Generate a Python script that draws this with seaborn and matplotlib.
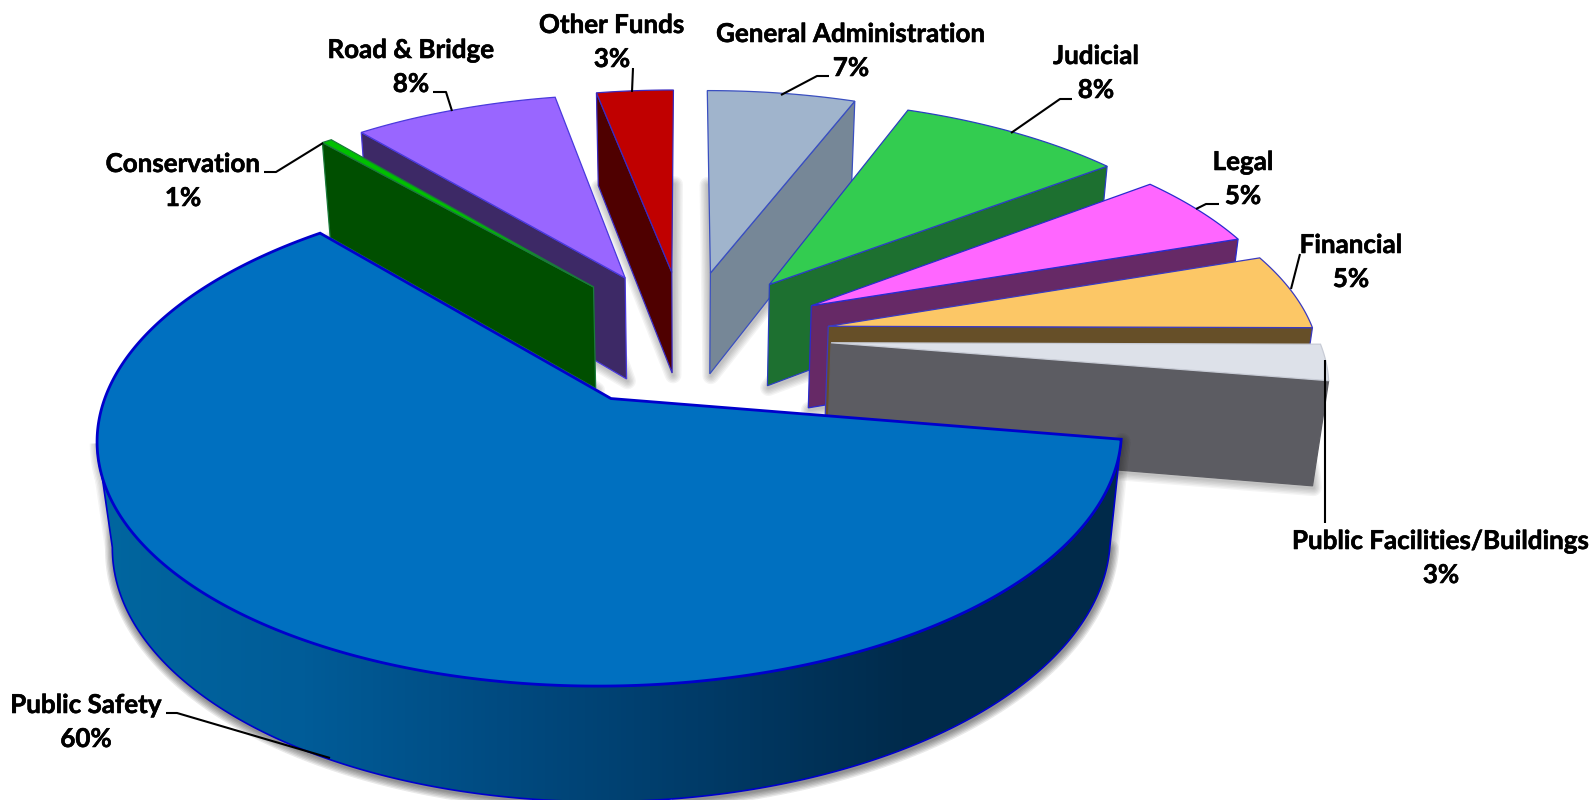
import numpy as np
import matplotlib
matplotlib.use('Agg')
import matplotlib.pyplot as plt
import matplotlib.patheffects as pe
from matplotlib.patches import Polygon
import seaborn as sns

sns.set_theme(style='white')
plt.rcParams['font.family'] = ['Lato', 'DejaVu Sans']

# clockwise from 12 o'clock
categories = ['General Administration', 'Judicial', 'Legal', 'Financial',
              'Public Facilities/Buildings', 'Public Safety', 'Conservation',
              'Road & Bridge', 'Other Funds']
# printed percentages
values = [7, 8, 5, 5, 3, 60, 1, 8, 3]
# slice sizes as they are drawn in the picture (not quite the printed numbers)
shares = [5.8, 8.8, 5.2, 5.3, 2.5, 61.0, 0.4, 8.0, 3.0]

top_colors = ['#A0B4CC', '#33CC50', '#FF66FF', '#FCC766', '#DDE1E9',
              '#0070C0', '#00C000', '#9966FF', '#C00000']
wall_colors = ['#768797', '#1D7030', '#662966', '#664F28', '#5C5C62',
               '#00334F', '#004F00', '#3D2966', '#4F0000']
edge_colors = ['#3A4FC0', '#2A3FC0', '#2A2AD0', '#3A3AC0', '#C8CCD6',
               '#0000CC', '#1A7A3A', '#4A3ADD', '#3A2AC0']
gradient = ['#00669F', '#005C98', '#004A80', '#003A66', '#002A4A', '#002A4A']

# label centres, pixels
label_xy = [(851, 51), (1096, 73), (1243, 179), (1351, 262), (1441, 558),
            (86, 722), (183, 181), (411, 67), (612, 42)]
leaders = [[(829, 76), (817, 76), (781, 95)],
           [(1072, 99), (1060, 99), (1011, 133)],
           [(1219, 204), (1206, 204), (1196, 209)],
           [(1300, 254), (1291, 289)],
           [(1325, 360), (1325, 523)],
           [(166, 713), (177, 713), (330, 758)],
           [(264, 172), (276, 172), (323, 143)],
           [(433, 92), (446, 92), (452, 111)],
           [(633, 68), (632, 92)]]

START = 90
EXPLODE = 0.3
CX, CY, A, B, H = 685, 337, 487, 226, 106
K_Y, K_Z = 0.145, 0.025


def project(x, y, z=0.0):
    s = 1 / (1 + K_Y * np.asarray(y) + K_Z * z)
    return np.column_stack([CX + A * np.asarray(x) * s,
                            CY - B * np.asarray(y) * s + H * z * s])


def rim_outline(xs, ys):
    # top and bottom arcs joined along the silhouette
    top, bot = project(xs, ys, 0), project(xs, ys, 1)
    a, b = top[:, 0].argmin(), top[:, 0].argmax()
    c, d = bot[:, 0].argmin(), bot[:, 0].argmax()
    return np.vstack([top[a:b + 1], bot[c:d + 1][::-1]])


fig = plt.figure(figsize=(15.92, 8), dpi=100)
ax = fig.add_axes([0, 0, 1, 1])

fractions = np.array(shares) / np.sum(shares)
stops = START - 360 * np.concatenate([[0], np.cumsum(fractions)])

slices = []
for i, name in enumerate(categories):
    t0, t1 = np.radians(stops[i + 1]), np.radians(stops[i])
    mid = (t0 + t1) / 2
    slices.append(dict(i=i, t0=t0, t1=t1, mid=mid,
                       ox=EXPLODE * np.cos(mid), oy=EXPLODE * np.sin(mid)))

# far slices first so the near ones sit on top
slices.sort(key=lambda d: -np.sin(d['mid']))
for order, sl in enumerate(slices):
    i = sl['i']
    name = categories[i]
    ox, oy = sl['ox'], sl['oy']
    n = max(60, int(np.degrees(sl['t1'] - sl['t0']) * 3))
    ts = np.linspace(sl['t0'], sl['t1'], n)
    arc_x, arc_y = ox + np.cos(ts), oy + np.sin(ts)
    edge = edge_colors[i]
    lw = 2.0 if name == 'Public Safety' else 0.9
    wall_edge = wall_colors[i] if name == 'Public Facilities/Buildings' else edge
    z = 10 + 5 * order

    front = np.sin(ts) < 0
    rim = rim_outline(arc_x[front], arc_y[front]) if front.sum() > 1 else None

    # soft shadow
    bottom = np.vstack([project([ox], [oy], 1), project(arc_x, arc_y, 1)])
    for shape in ([bottom] if rim is None else [bottom, rim]):
        for w in (12, 10, 8, 6, 4, 2):
            ax.add_patch(Polygon(shape + [1, 2], closed=True, fill=False, edgecolor='black',
                                 linewidth=w, alpha=0.045, joinstyle='round', zorder=z))

    # outer rim, only the part facing the viewer
    if rim is not None:
        if name == 'Public Safety':
            cmap = sns.blend_palette(gradient, as_cmap=True)
            im = ax.imshow(np.linspace(0, 1, 256).reshape(1, -1), cmap=cmap, aspect='auto',
                           extent=(rim[:, 0].min(), rim[:, 0].max(), 800, 0), zorder=z + 1)
            clip = Polygon(rim, closed=True, transform=ax.transData, facecolor='none', edgecolor='none')
            ax.add_patch(clip)
            im.set_clip_path(clip)
            ax.add_patch(Polygon(rim, closed=True, fill=False, edgecolor=edge, linewidth=1.2, zorder=z + 2))
        else:
            ax.add_patch(Polygon(rim, closed=True, facecolor=wall_colors[i], edgecolor=wall_edge,
                                 linewidth=lw, zorder=z + 1))

    # radial faces, skipped when they look away from the viewer
    if name != 'Public Safety':
        for t, normal in ((sl['t0'], sl['t0'] - np.pi / 2), (sl['t1'], sl['t1'] + np.pi / 2)):
            if np.sin(normal) > -0.01:
                continue
            tx, ty = ox + np.cos(t), oy + np.sin(t)
            face = np.vstack([project([ox, tx], [oy, ty], 0), project([tx, ox], [ty, oy], 1)])
            ax.add_patch(Polygon(face, closed=True, facecolor=wall_colors[i], edgecolor=wall_edge,
                                 linewidth=lw, zorder=z + 2))

    # top face
    top = np.vstack([project([ox], [oy], 0), project(arc_x, arc_y, 0)])
    ax.add_patch(Polygon(top, closed=True, facecolor=top_colors[i], edgecolor=edge,
                         linewidth=lw, zorder=z + 3))

for name, val, (lx, ly), path in zip(categories, values, label_xy, leaders):
    ax.text(lx, ly, f'{name}\n{val}%', ha='center', va='center', fontsize=18.7,
            fontweight='bold', color='black', linespacing=1.5, zorder=100,
            path_effects=[pe.withStroke(linewidth=0.4, foreground='black')])
    pts = np.array(path)
    ax.plot(pts[:, 0], pts[:, 1], color='black', lw=1.5, zorder=99, solid_capstyle='butt')

ax.set_xlim(0, 1592)
ax.set_ylim(800, 0)
ax.axis('off')
fig.savefig('out.png', dpi=100, facecolor='white')
